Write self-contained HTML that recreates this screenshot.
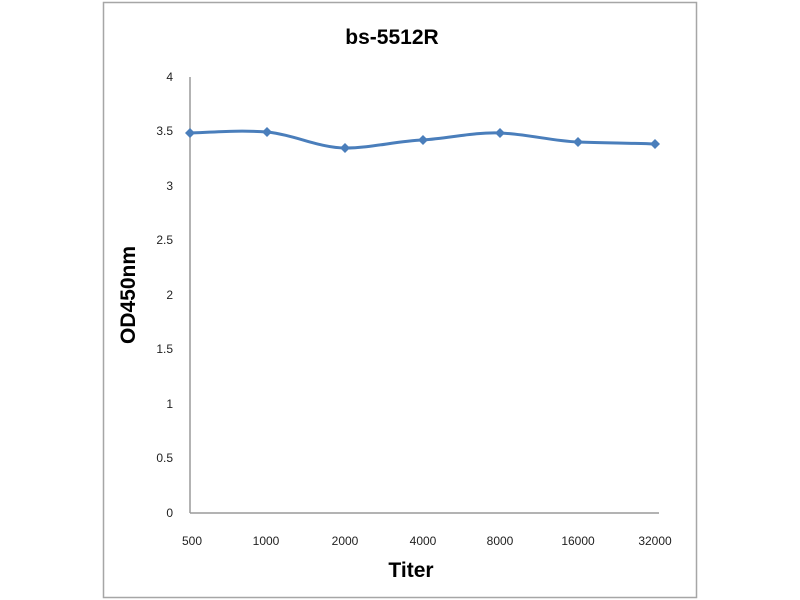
<!DOCTYPE html>
<html><head><style>body{margin:0;background:#fff}svg{display:block}</style></head><body>
<svg width="800" height="600" xmlns="http://www.w3.org/2000/svg" font-family="Liberation Sans, sans-serif">
<rect x="103.5" y="2.5" width="593" height="595" fill="#fff" stroke="#a6a6a6" stroke-width="1.5"/>
<text x="392" y="44" text-anchor="middle" font-size="21" font-weight="bold">bs-5512R</text>
<line x1="190" y1="77" x2="190" y2="513" stroke="#9a9a9a" stroke-width="1.5"/>
<line x1="190" y1="513" x2="659" y2="513" stroke="#9a9a9a" stroke-width="1.5"/>
<g font-size="12" text-anchor="end" fill="#222">
<text x="173" y="517">0</text><text x="173" y="462">0.5</text><text x="173" y="408">1</text><text x="173" y="353">1.5</text><text x="173" y="299">2</text><text x="173" y="244">2.5</text><text x="173" y="190">3</text><text x="173" y="135">3.5</text><text x="173" y="81">4</text>
</g>
<g font-size="12" text-anchor="middle" fill="#222">
<text x="192" y="545">500</text><text x="266" y="545">1000</text><text x="345" y="545">2000</text><text x="423" y="545">4000</text><text x="500" y="545">8000</text><text x="578" y="545">16000</text><text x="655" y="545">32000</text>
</g>
<text x="411" y="577" text-anchor="middle" font-size="21" font-weight="bold">Titer</text>
<text transform="translate(135,295) rotate(-90)" text-anchor="middle" font-size="21" font-weight="bold">OD450nm</text>
<path d="M190,133 C215,132 240,130 267,132 C295,135 320,148 345,148 C372,148 396,141 423,140 C450,138 475,132 500,133 C527,134 552,141 578,142 C605,143 630,143 655,144" fill="none" stroke="#4a7ebb" stroke-width="3"/>
<g fill="#4a7ebb">
<path d="M190,128l5,5l-5,5l-5,-5z"/><path d="M267,127l5,5l-5,5l-5,-5z"/><path d="M345,143l5,5l-5,5l-5,-5z"/><path d="M423,135l5,5l-5,5l-5,-5z"/><path d="M500,128l5,5l-5,5l-5,-5z"/><path d="M578,137l5,5l-5,5l-5,-5z"/><path d="M655,139l5,5l-5,5l-5,-5z"/>
</g>
</svg>
</body></html>
